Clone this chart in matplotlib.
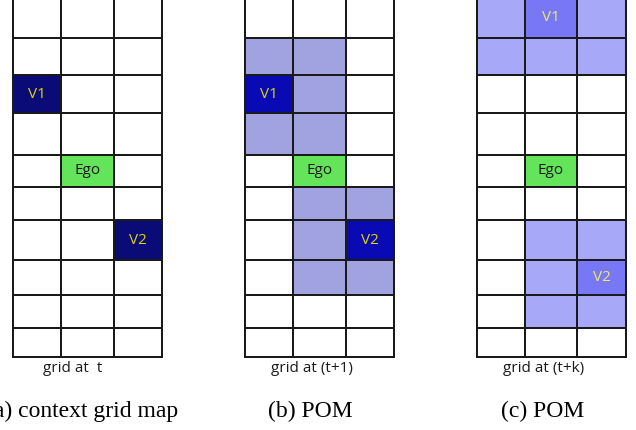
import numpy as np
import matplotlib.pyplot as plt
from matplotlib.colors import ListedColormap

# ------------------------------------------------------------
# cell states: 0 = free, 1 = possible occupancy, 2 = vehicle, 3 = ego
# ------------------------------------------------------------
grid_a = [
    [0, 0, 0],
    [0, 0, 0],
    [2, 0, 0],
    [0, 0, 0],
    [0, 3, 0],
    [0, 0, 0],
    [0, 0, 2],
    [0, 0, 0],
    [0, 0, 0],
    [0, 0, 0],
]
grid_b = [
    [0, 0, 0],
    [1, 1, 0],
    [2, 1, 0],
    [1, 1, 0],
    [0, 3, 0],
    [0, 1, 1],
    [0, 1, 2],
    [0, 1, 1],
    [0, 0, 0],
    [0, 0, 0],
]
grid_c = [
    [1, 2, 1],
    [1, 1, 1],
    [0, 0, 0],
    [0, 0, 0],
    [0, 3, 0],
    [0, 0, 0],
    [0, 1, 1],
    [0, 1, 2],
    [0, 1, 1],
    [0, 0, 0],
]

# labels written inside cells: (text, row, col)
labels_a = [("V1", 2, 0), ("Ego", 4, 1), ("V2", 6, 2)]
labels_b = [("V1", 2, 0), ("Ego", 4, 1), ("V2", 6, 2)]
labels_c = [("V1", 0, 1), ("Ego", 4, 1), ("V2", 7, 2)]

grid_titles = ["grid at  t", "grid at (t+1)", "grid at (t+k)"]
captions = ["(a) context grid map", "(b) POM", "(c) POM"]

# ------------------------------------------------------------
# layout (pixel coordinates of the 636x430 picture)
# ------------------------------------------------------------
row_edges = [-3, 38, 75, 113, 155, 187, 220, 260, 295, 328, 357]
col_edges = [
    [13, 61, 114, 162],
    [245, 293, 346, 394],
    [477, 525, 577, 626],
]
title_x = [73, 312, 544]
palettes = [
    ["white", "#a0a3e0", "#0b0b78", "#63e45a"],
    ["white", "#a0a3e0", "#0a0ab5", "#63e45a"],
    ["white", "#a8a8f9", "#7878f7", "#63e45a"],
]
vehicle_text = ["#d8d400", "#dcd800", "#ecea70"]

fig = plt.figure(figsize=(6.36, 4.30), dpi=100)
ax = fig.add_axes([0, 0, 1, 1])
ax.set_xlim(0, 636)
ax.set_ylim(430, 0)
ax.axis("off")

grids = [grid_a, grid_b, grid_c]
all_labels = [labels_a, labels_b, labels_c]

for g in range(3):
    xs = col_edges[g]
    cmap = ListedColormap(palettes[g])
    ax.pcolormesh(xs, row_edges, np.array(grids[g]), cmap=cmap,
                  vmin=-0.5, vmax=3.5, edgecolors="#1a1a1a", linewidth=1.1)

    for text, r, c in all_labels[g]:
        cx = (xs[c] + xs[c + 1]) / 2
        cy = (row_edges[r] + row_edges[r + 1]) / 2
        color = "#1a1a1a" if text == "Ego" else vehicle_text[g]
        ax.text(cx, cy, text, ha="center", va="center", fontsize=11,
                color=color, family="Open Sans")

    # small caption under each grid
    ax.text(title_x[g], 368, grid_titles[g], ha="center", va="center",
            fontsize=11, color="#1a1a1a", family="Open Sans")

# sub-figure captions (the first one runs off the left edge, as in the source)
ax.text(178, 411, captions[0], ha="right", va="center", fontsize=17,
        family="Liberation Serif")
ax.text(310, 411, captions[1], ha="center", va="center", fontsize=17,
        family="Liberation Serif")
ax.text(543, 411, captions[2], ha="center", va="center", fontsize=17,
        family="Liberation Serif")

fig.savefig("out.png", dpi=100)
